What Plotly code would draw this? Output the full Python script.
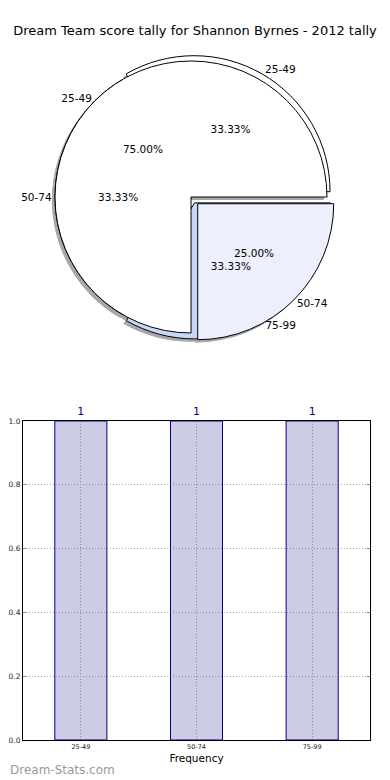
import plotly.graph_objects as go

# ---------------- data ----------------
title_text = "Dream Team score tally for Shannon Byrnes - 2012 tally"

pie3_labels = ["25-49", "50-74", "75-99"]
pie3_values = [1, 1, 1]

pie2_labels = ["25-49", "50-74"]
pie2_values = [3, 1]

bar_categories = ["25-49", "50-74", "75-99"]
bar_values = [1, 1, 1]

y_tick_values = [0.0, 0.2, 0.4, 0.6, 0.8, 1.0]
y_tick_labels = ["0.0", "0.2", "0.4", "0.6", "0.8", "1.0"]

# ---------------- styles ----------------
FONT = "DejaVu Sans"
pie3_colors = ["#ffffff", "#ffffff", "#c6d7f7"]
pie3_pull = [0.045, 0.0, 0.05]
pie2_colors = ["#ffffff", "#ebf0fc"]
pie2_pull = [0.0, 0.07]
SHADOW = "#a8a8a8"
TRANSPARENT = "rgba(0,0,0,0)"
PCT = "%{percent:.2%}"
SPACER = "<br><span style='color:rgba(0,0,0,0)'>.</span>"
pie3_pct_templates = [PCT, PCT, PCT]
pie2_pct_templates = [PCT, PCT + SPACER]

# the page body has an 8px margin: the figure is sized/placed to compensate
OFF = 8
W, H = 390 - OFF, 780 - OFF
ML = 15
MR = W - (370 - OFF)
MT = 0
MB = H - (740 - OFF)
PW, PH = W - ML - MR, H - MT - MB

# pie centre / radius in screen pixels
PIE_CX, PIE_CY, PIE_R = 191, 197, 136


def pie_domain(cx, cy, r, maxpull, dx=0, dy=0):
    cx, cy = cx - OFF, cy - OFF
    half = r * (1 + maxpull)
    x0 = (cx + dx - half - ML) / PW
    x1 = (cx + dx + half - ML) / PW
    y0 = (MT + PH - (cy + dy + half)) / PH
    y1 = (MT + PH - (cy + dy - half)) / PH
    return dict(x=[x0, x1], y=[y0, y1])


def rotation_for(values):
    # first slice starts at 3 o'clock and runs counter-clockwise
    return 90 - 360.0 * values[0] / sum(values)


fig = go.Figure()

common = dict(sort=False, direction="counterclockwise", showlegend=False,
              hoverinfo="skip")

# shadows
for labels, values, pull in [(pie3_labels, pie3_values, pie3_pull),
                             (pie2_labels, pie2_values, pie2_pull)]:
    fig.add_trace(go.Pie(
        labels=labels, values=values, pull=pull,
        rotation=rotation_for(values),
        domain=pie_domain(PIE_CX, PIE_CY, PIE_R, max(pull), dx=-3, dy=3),
        marker=dict(colors=[SHADOW] * len(values), line=dict(width=0)),
        textinfo="none", **common))

# filled pies
for labels, values, pull, colors in [(pie3_labels, pie3_values, pie3_pull, pie3_colors),
                                     (pie2_labels, pie2_values, pie2_pull, pie2_colors)]:
    fig.add_trace(go.Pie(
        labels=labels, values=values, pull=pull,
        rotation=rotation_for(values),
        domain=pie_domain(PIE_CX, PIE_CY, PIE_R, max(pull)),
        marker=dict(colors=colors, line=dict(color="black", width=1)),
        textinfo="none", **common))

# text layers
for labels, values, pull, tmpl in [(pie3_labels, pie3_values, pie3_pull, pie3_pct_templates),
                                   (pie2_labels, pie2_values, pie2_pull, pie2_pct_templates)]:
    dom = pie_domain(PIE_CX, PIE_CY, PIE_R, max(pull))
    fig.add_trace(go.Pie(
        labels=labels, values=values, pull=pull,
        rotation=rotation_for(values), domain=dom,
        marker=dict(colors=[TRANSPARENT] * len(values), line=dict(width=0)),
        textinfo="label", textposition="outside",
        outsidetextfont=dict(family=FONT, size=10.5, color="black"),
        **common))
    fig.add_trace(go.Pie(
        labels=labels, values=values, pull=pull,
        rotation=rotation_for(values), domain=dom,
        marker=dict(colors=[TRANSPARENT] * len(values), line=dict(width=0)),
        texttemplate=tmpl, textposition="inside",
        insidetextorientation="horizontal",
        insidetextfont=dict(family=FONT, size=10.5, color="black"),
        **common))

# bar chart
fig.add_trace(go.Bar(
    x=bar_categories, y=bar_values, width=0.45,
    marker=dict(color="rgba(0,0,128,0.2)", line=dict(color="#000080", width=1)),
    text=[str(v) for v in bar_values], textposition="outside",
    textfont=dict(family=FONT, size=11, color="#000080"),
    cliponaxis=False, showlegend=False, hoverinfo="skip",
    xaxis="x", yaxis="y"))

GRID = dict(showgrid=True, gridcolor="#a8a8a8", griddash="1px,2px", gridwidth=1)

fig.update_layout(
    width=W, height=H,
    margin=dict(l=ML, r=MR, t=MT, b=MB, autoexpand=False),
    paper_bgcolor="white", plot_bgcolor="white",
    font=dict(family=FONT, color="black"),
    title=dict(text=title_text, x=(195 - OFF) / W, xref="container", xanchor="center",
               y=1 - (30 - OFF) / H, yref="container", yanchor="middle",
               font=dict(family=FONT, size=13, color="black")),
    xaxis=dict(domain=[0, 1], anchor="y", type="category", automargin=False,
               range=[-0.5, 2.5],
               showline=True, linecolor="black", linewidth=1, mirror=True,
               ticks="", tickfont=dict(family=FONT, size=6.5, color="#222"),
               title=dict(text="Frequency", font=dict(family=FONT, size=10.5, color="black"),
                          standoff=4),
               **GRID),
    yaxis=dict(domain=[0, (MT + PH - (421 - OFF)) / PH], anchor="x", automargin=False,
               range=[0, 1], tickvals=y_tick_values, ticktext=y_tick_labels,
               showline=True, linecolor="black", linewidth=1, mirror="ticks",
               zeroline=False,
               ticks="inside", ticklen=3, tickcolor="#888",
               tickfont=dict(family=FONT, size=7.5, color="#222"),
               **GRID),
    annotations=[dict(text="Dream-Stats.com", xref="paper", yref="paper",
                      x=-ML / PW, y=-((770 - OFF) - (MT + PH)) / PH,
                      xanchor="left", yanchor="middle", showarrow=False,
                      font=dict(family=FONT, size=12, color="#999999"))],
)

fig.write_html("out.html")
